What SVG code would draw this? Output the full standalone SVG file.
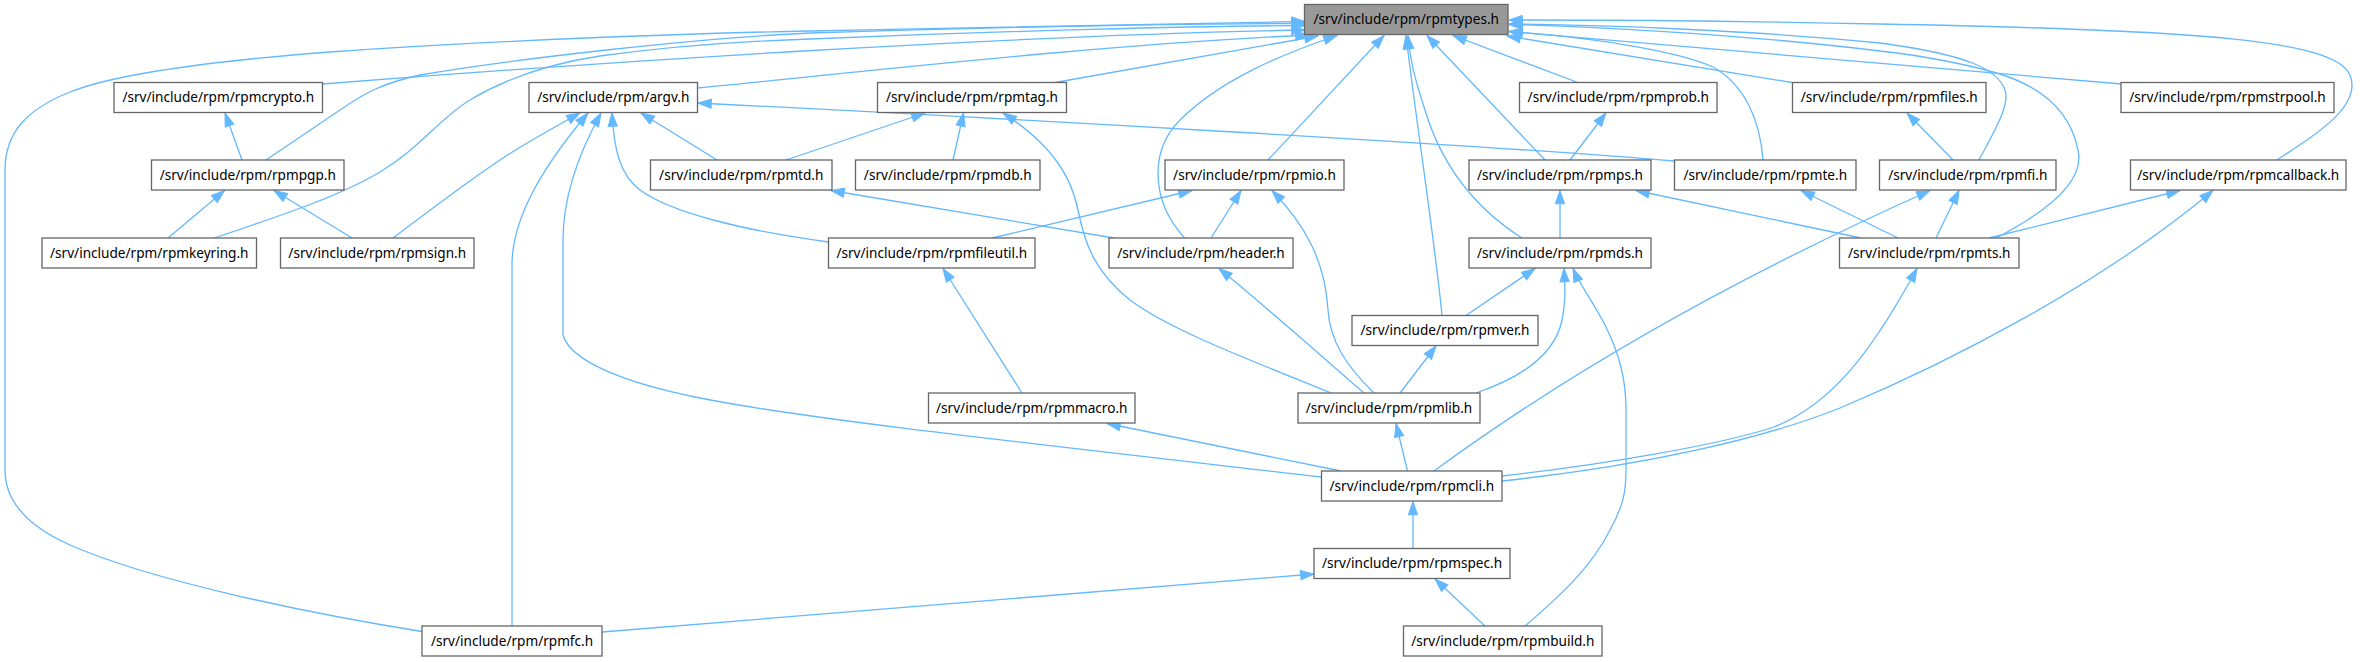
<svg xmlns="http://www.w3.org/2000/svg" width="2360" height="662" viewBox="0 0 2360 662">
<style>
.n rect{fill:#ffffff;stroke:#666666;stroke-width:1.3}
.root rect{fill:#999999}
.n text{font-family:"Noto Sans","Open Sans","DejaVu Sans",sans-serif;font-size:13.6px;text-anchor:middle;fill:#000000}
.e path{fill:none;stroke:#63b8ff;stroke-width:1.3;marker-end:url(#a)}
</style>
<defs>
<marker id="a" markerUnits="userSpaceOnUse" markerWidth="14" markerHeight="10" viewBox="0 0 14 10" refX="13.3" refY="5" orient="auto" overflow="visible">
<path d="M0,0.4 L13.3,5 L0,9.6 z" fill="#63b8ff" stroke="#63b8ff" stroke-width="1"/>
</marker>
</defs>
<rect width="2360" height="662" fill="#ffffff"/>
<g id="edges" class="e">
<path d="M422,631.5 C300,612 150,580 70,545 C25,525 5,500 5,470 L5,170 C5,130 30,108 70,92 C110,76 200,62 330,52 C500,40 700,33 810,31 C1000,27 1200,23 1305,21.5"/>
<path d="M322.5,84 C600,62 1000,36 1305,30"/>
<path d="M266,160 L340,110 C365,93 380,84 420,75 C520,58 700,38 810,33 C1000,27 1200,24 1305,23.5"/>
<path d="M214,238 C280,216 340,196 380,172 C420,148 440,118 470,100 C500,82 540,65 600,56 C680,45 750,41 810,39 C1000,31 1200,26 1305,25.5"/>
<path d="M697.5,88 C900,68 1100,45 1309,35"/>
<path d="M1055,82.5 L1318,36"/>
<path d="M1184.6,238 C1150,200 1150,150 1180,120 C1220,80 1280,55 1337,35.5"/>
<path d="M1268,160 L1384,35.5"/>
<path d="M1442,315.5 C1436,250 1416,120 1406,35.5"/>
<path d="M1522,238 C1470,205 1440,160 1425,110 C1415,80 1410,60 1408,35.5"/>
<path d="M1545,160 L1427,35.5"/>
<path d="M1578,82.5 L1453,35.5"/>
<path d="M1763,160 C1760,120 1745,85 1713,67 C1680,52 1600,38 1509,31.5"/>
<path d="M1792,82.5 L1507,36"/>
<path d="M1979,160 C1995,130 2010,105 2005,90 C1998,70 1970,55 1880,43 C1750,30 1600,25 1509,24"/>
<path d="M1996,238 C2050,210 2085,180 2078,150 C2070,110 2040,85 1993,72 C1950,60 1900,53 1880,51 C1750,35 1600,27 1509,24.5"/>
<path d="M2122,84 L1509,31.5"/>
<path d="M2277,160 C2320,132 2362,105 2350,75 C2335,40 2200,30 1880,24 C1700,20 1600,20 1509,20"/>
<path d="M242,160 L225,113"/>
<path d="M168,238 L224.5,190.5"/>
<path d="M352,238 L274,190.5"/>
<path d="M393,238 C430,210 470,180 500,160 C530,140 555,127 580,113"/>
<path d="M512,626 L512,265 C512,220 540,170 588,113"/>
<path d="M1321.5,477 C1000,440 800,418 700,398 C620,382 570,360 563,335 L563,240 C563,200 575,160 601,113"/>
<path d="M828.5,242 C740,230 670,212 640,190 C620,175 614,150 612,113"/>
<path d="M717,160 L641,113"/>
<path d="M1674.5,161 C1500,146 1000,118 698,103"/>
<path d="M786,160 L925,113"/>
<path d="M953,160 L963.5,113"/>
<path d="M1331,393 C1250,360 1170,330 1130,300 C1095,272 1085,245 1078,210 C1070,170 1045,140 1003,113"/>
<path d="M1114,238 L831,190.5"/>
<path d="M992,238 L1192,190.5"/>
<path d="M1211,238 L1241,190.5"/>
<path d="M1374,393 C1345,365 1330,340 1328,310 C1325,260 1305,225 1272,190.5"/>
<path d="M1364,393 C1320,355 1270,310 1219,268.5"/>
<path d="M1022,393 L943,268.5"/>
<path d="M1341,471 L1107,423.5"/>
<path d="M1407.5,471 L1396,423.5"/>
<path d="M1466,315.5 L1535,268.5"/>
<path d="M1400,393 L1436,346"/>
<path d="M1476,393 C1520,378 1555,355 1562,320 C1566,300 1565,290 1564,268.5"/>
<path d="M1525,626 C1555,600 1590,570 1610,530 C1624,505 1626,490 1626,470 L1626,410 C1626,380 1620,355 1605,325 C1592,300 1580,285 1573,268.5"/>
<path d="M1560,238 L1560,190.5"/>
<path d="M1570,160 L1606,113"/>
<path d="M1861,238 L1636,190.5"/>
<path d="M1898,238 L1801,190.5"/>
<path d="M1936,238 L1959,190.5"/>
<path d="M1989,238 L2180,190.5"/>
<path d="M1953,160 L1907,113"/>
<path d="M1434,471 Q1640,320 1930,190.5"/>
<path d="M1502,476 C1600,465 1720,445 1774,427 C1830,405 1870,355 1917,268.5"/>
<path d="M1502,481 C1640,466 1760,440 1840,408 C1950,362 2100,285 2213,190.5"/>
<path d="M1413,548.5 L1413,501.5"/>
<path d="M1485,626 L1435,579"/>
<path d="M602,632 L1314,574"/>
</g>
<g id="rpmtypes" class="n root"><rect x="1304.5" y="4.5" width="203.5" height="30"/><text x="1406.25" y="24.3">/srv/include/rpm/rpmtypes.h</text></g>
<g id="rpmcrypto" class="n"><rect x="114" y="82.5" width="208.5" height="30"/><text x="218.25" y="102.3">/srv/include/rpm/rpmcrypto.h</text></g>
<g id="argv" class="n"><rect x="529" y="82.5" width="168.5" height="30"/><text x="613.25" y="102.3">/srv/include/rpm/argv.h</text></g>
<g id="rpmtag" class="n"><rect x="877.5" y="82.5" width="189" height="30"/><text x="972" y="102.3">/srv/include/rpm/rpmtag.h</text></g>
<g id="rpmprob" class="n"><rect x="1519.5" y="82.5" width="197.5" height="30"/><text x="1618.25" y="102.3">/srv/include/rpm/rpmprob.h</text></g>
<g id="rpmfiles" class="n"><rect x="1792.5" y="82.5" width="193.5" height="30"/><text x="1889.25" y="102.3">/srv/include/rpm/rpmfiles.h</text></g>
<g id="rpmstrpool" class="n"><rect x="2121" y="82.5" width="213" height="30"/><text x="2227.5" y="102.3">/srv/include/rpm/rpmstrpool.h</text></g>
<g id="rpmpgp" class="n"><rect x="151.5" y="160" width="192.5" height="30"/><text x="247.75" y="179.8">/srv/include/rpm/rpmpgp.h</text></g>
<g id="rpmtd" class="n"><rect x="650.5" y="160" width="181.5" height="30"/><text x="741.25" y="179.8">/srv/include/rpm/rpmtd.h</text></g>
<g id="rpmdb" class="n"><rect x="855.5" y="160" width="184.5" height="30"/><text x="947.75" y="179.8">/srv/include/rpm/rpmdb.h</text></g>
<g id="rpmio" class="n"><rect x="1165" y="160" width="179" height="30"/><text x="1254.5" y="179.8">/srv/include/rpm/rpmio.h</text></g>
<g id="rpmps" class="n"><rect x="1469" y="160" width="182" height="30"/><text x="1560" y="179.8">/srv/include/rpm/rpmps.h</text></g>
<g id="rpmte" class="n"><rect x="1674.5" y="160" width="181.5" height="30"/><text x="1765.25" y="179.8">/srv/include/rpm/rpmte.h</text></g>
<g id="rpmfi" class="n"><rect x="1879.5" y="160" width="176.5" height="30"/><text x="1967.75" y="179.8">/srv/include/rpm/rpmfi.h</text></g>
<g id="rpmcallback" class="n"><rect x="2130.5" y="160" width="215.5" height="30"/><text x="2238.25" y="179.8">/srv/include/rpm/rpmcallback.h</text></g>
<g id="rpmkeyring" class="n"><rect x="42" y="238" width="214.5" height="30"/><text x="149.25" y="257.8">/srv/include/rpm/rpmkeyring.h</text></g>
<g id="rpmsign" class="n"><rect x="280.5" y="238" width="193.5" height="30"/><text x="377.25" y="257.8">/srv/include/rpm/rpmsign.h</text></g>
<g id="rpmfileutil" class="n"><rect x="828.5" y="238" width="206.5" height="30"/><text x="931.75" y="257.8">/srv/include/rpm/rpmfileutil.h</text></g>
<g id="header" class="n"><rect x="1109" y="238" width="184" height="30"/><text x="1201" y="257.8">/srv/include/rpm/header.h</text></g>
<g id="rpmds" class="n"><rect x="1469" y="238" width="182" height="30"/><text x="1560" y="257.8">/srv/include/rpm/rpmds.h</text></g>
<g id="rpmts" class="n"><rect x="1839.5" y="238" width="179.5" height="30"/><text x="1929.25" y="257.8">/srv/include/rpm/rpmts.h</text></g>
<g id="rpmver" class="n"><rect x="1352" y="315.5" width="186" height="30"/><text x="1445" y="335.3">/srv/include/rpm/rpmver.h</text></g>
<g id="rpmmacro" class="n"><rect x="928.5" y="393" width="206.5" height="30"/><text x="1031.75" y="412.8">/srv/include/rpm/rpmmacro.h</text></g>
<g id="rpmlib" class="n"><rect x="1298" y="393" width="182" height="30"/><text x="1389" y="412.8">/srv/include/rpm/rpmlib.h</text></g>
<g id="rpmcli" class="n"><rect x="1321.5" y="471" width="180.5" height="30"/><text x="1411.75" y="490.8">/srv/include/rpm/rpmcli.h</text></g>
<g id="rpmspec" class="n"><rect x="1314" y="548.5" width="196" height="30"/><text x="1412" y="568.3">/srv/include/rpm/rpmspec.h</text></g>
<g id="rpmfc" class="n"><rect x="422" y="626" width="180" height="30"/><text x="512" y="645.8">/srv/include/rpm/rpmfc.h</text></g>
<g id="rpmbuild" class="n"><rect x="1403.5" y="626" width="198.5" height="30"/><text x="1502.75" y="645.8">/srv/include/rpm/rpmbuild.h</text></g>
</svg>
